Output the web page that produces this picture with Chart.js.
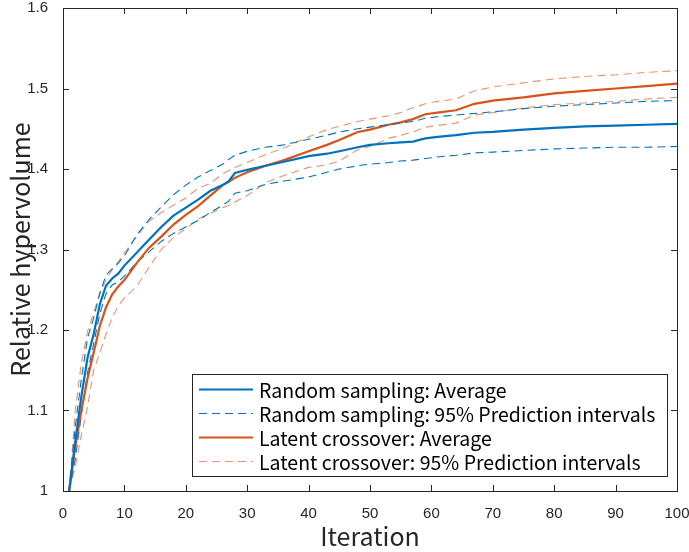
<!DOCTYPE html>
<html>
<head>
<meta charset="utf-8">
<script src="https://cdn.jsdelivr.net/npm/chart.js@4.4.1/dist/chart.umd.min.js"></script>
<style>
  html, body { margin: 0; padding: 0; background: #fff; }
  #wrap { width: 689px; height: 552px; }
</style>
</head>
<body>
<div id="wrap"><canvas id="grafico"></canvas></div>
<script>
// Iteraciones en las que se leyeron los valores
const iteraciones = [1, 2, 3, 4, 5, 6, 7, 8, 9, 10, 12, 14, 16, 18, 20, 22, 24, 26, 27, 28, 30, 33, 36, 40, 43, 45, 48, 50, 53, 55, 57, 59, 61, 64, 67, 70, 75, 80, 85, 90, 95, 100];

// Random sampling
const randomPromedio = [1.000, 1.062, 1.118, 1.166, 1.195, 1.232, 1.255, 1.264, 1.270, 1.280, 1.296, 1.312, 1.328, 1.342, 1.352, 1.362, 1.373, 1.380, 1.385, 1.395, 1.399, 1.404, 1.409, 1.416, 1.419, 1.422, 1.427, 1.430, 1.432, 1.433, 1.434, 1.438, 1.440, 1.442, 1.445, 1.446, 1.449, 1.451, 1.453, 1.454, 1.455, 1.456];
const randomSuperior = [1.000, 1.080, 1.140, 1.190, 1.215, 1.246, 1.268, 1.276, 1.283, 1.292, 1.318, 1.337, 1.353, 1.368, 1.380, 1.390, 1.398, 1.406, 1.412, 1.417, 1.422, 1.427, 1.430, 1.437, 1.442, 1.446, 1.450, 1.452, 1.455, 1.457, 1.459, 1.463, 1.465, 1.467, 1.469, 1.471, 1.475, 1.478, 1.480, 1.482, 1.484, 1.485];
const randomInferior = [1.000, 1.040, 1.095, 1.147, 1.183, 1.220, 1.245, 1.256, 1.260, 1.267, 1.284, 1.297, 1.310, 1.320, 1.328, 1.336, 1.346, 1.355, 1.360, 1.370, 1.373, 1.381, 1.385, 1.390, 1.396, 1.400, 1.404, 1.406, 1.408, 1.410, 1.411, 1.413, 1.415, 1.417, 1.420, 1.421, 1.423, 1.425, 1.426, 1.427, 1.427, 1.428];

// Latent crossover
const latentPromedio = [1.000, 1.055, 1.100, 1.140, 1.172, 1.205, 1.228, 1.244, 1.254, 1.262, 1.283, 1.302, 1.316, 1.331, 1.343, 1.354, 1.367, 1.380, 1.384, 1.389, 1.396, 1.404, 1.411, 1.422, 1.430, 1.436, 1.446, 1.449, 1.455, 1.458, 1.462, 1.468, 1.470, 1.473, 1.481, 1.485, 1.489, 1.494, 1.497, 1.500, 1.503, 1.506];
const latentSuperior = [1.000, 1.100, 1.160, 1.198, 1.222, 1.245, 1.262, 1.275, 1.285, 1.296, 1.316, 1.335, 1.346, 1.355, 1.364, 1.376, 1.382, 1.394, 1.398, 1.402, 1.408, 1.418, 1.426, 1.440, 1.449, 1.453, 1.459, 1.462, 1.466, 1.470, 1.476, 1.481, 1.484, 1.487, 1.497, 1.502, 1.507, 1.512, 1.515, 1.517, 1.520, 1.522];
const latentInferior = [1.000, 1.030, 1.070, 1.105, 1.150, 1.172, 1.195, 1.215, 1.230, 1.240, 1.254, 1.278, 1.300, 1.315, 1.326, 1.338, 1.345, 1.352, 1.355, 1.359, 1.367, 1.383, 1.392, 1.402, 1.405, 1.410, 1.424, 1.428, 1.438, 1.442, 1.446, 1.452, 1.454, 1.457, 1.467, 1.470, 1.476, 1.480, 1.482, 1.484, 1.487, 1.489];

// Ticks de los ejes
const ticksX = [0, 10, 20, 30, 40, 50, 60, 70, 80, 90, 100];
const ticksY = [1, 1.1, 1.2, 1.3, 1.4, 1.5, 1.6];

const azul = '#0072BD';
const naranja = '#D95319';
const naranjaClaro = 'rgba(217, 83, 25, 0.62)';
const colorEje = '#262626';
const fuenteTexto = "'Noto Sans CJK JP', 'Noto Sans', sans-serif";
const fuenteTicks = "'Liberation Sans Narrow', 'Liberation Sans', 'DejaVu Sans Condensed', sans-serif";

function puntos(valores) {
    return iteraciones.map((it, i) => ({ x: it, y: valores[i] }));
}

// Caja del eje y marcas hacia adentro (estilo MATLAB)
const cajaEjes = {
    id: 'cajaEjes',
    afterDatasetsDraw(chart) {
        const { ctx, chartArea: a, scales } = chart;
        const largo = 6;
        ctx.save();
        ctx.strokeStyle = colorEje;
        ctx.lineWidth = 1;
        ctx.beginPath();
        ticksX.forEach(v => {
            const px = Math.round(scales.x.getPixelForValue(v)) + 0.5;
            ctx.moveTo(px, a.bottom); ctx.lineTo(px, a.bottom - largo);
            ctx.moveTo(px, a.top); ctx.lineTo(px, a.top + largo);
        });
        ticksY.forEach(v => {
            const py = Math.round(scales.y.getPixelForValue(v)) + 0.5;
            ctx.moveTo(a.left, py); ctx.lineTo(a.left + largo, py);
            ctx.moveTo(a.right, py); ctx.lineTo(a.right - largo, py);
        });
        ctx.stroke();
        ctx.strokeRect(Math.round(a.left) + 0.5, Math.round(a.top) + 0.5,
            Math.round(a.right - a.left), Math.round(a.bottom - a.top));
        ctx.restore();
    }
};

// Leyenda dentro del area del grafico
const leyendaInterna = {
    id: 'leyendaInterna',
    afterDraw(chart) {
        const { ctx } = chart;
        const caja = { x: 192.5, y: 374.5, w: 475, h: 102 };
        ctx.save();
        ctx.fillStyle = '#fff';
        ctx.fillRect(caja.x, caja.y, caja.w, caja.h);
        ctx.strokeStyle = colorEje;
        ctx.lineWidth = 1;
        ctx.strokeRect(caja.x, caja.y, caja.w, caja.h);
        ctx.font = '19.5px ' + fuenteTexto;
        ctx.textBaseline = 'middle';
        chart.data.datasets.filter(ds => ds.enLeyenda !== false).forEach((ds, i) => {
            const y = 389.5 + i * 24;
            ctx.beginPath();
            ctx.strokeStyle = ds.borderColor;
            ctx.lineWidth = ds.borderWidth;
            ctx.setLineDash(ds.borderDash || []);
            ctx.moveTo(199, y);
            ctx.lineTo(253, y);
            ctx.stroke();
            ctx.setLineDash([]);
            ctx.fillStyle = '#000';
            ctx.fillText(ds.label, 259, y + 1);
        });
        ctx.restore();
    }
};

const ctx = document.getElementById('grafico').getContext('2d');
new Chart(ctx, {
    type: 'line',
    data: {
        datasets: [{
            label: 'Random sampling: Average',
            data: puntos(randomPromedio),
            borderColor: azul,
            borderWidth: 2.2
        }, {
            label: 'Random sampling: 95% Prediction intervals',
            data: puntos(randomSuperior),
            borderColor: azul,
            borderWidth: 1.1,
            borderDash: [8, 5]
        }, {
            label: 'Latent crossover: Average',
            data: puntos(latentPromedio),
            borderColor: naranja,
            borderWidth: 2.2
        }, {
            label: 'Latent crossover: 95% Prediction intervals',
            data: puntos(latentSuperior),
            borderColor: naranjaClaro,
            borderWidth: 1.1,
            borderDash: [8, 5]
        }, {
            label: '',
            data: puntos(randomInferior),
            borderColor: azul,
            borderWidth: 1.1,
            borderDash: [8, 5],
            enLeyenda: false
        }, {
            label: '',
            data: puntos(latentInferior),
            borderColor: naranjaClaro,
            borderWidth: 1.1,
            borderDash: [8, 5],
            enLeyenda: false
        }]
    },
    options: {
        responsive: true,
        maintainAspectRatio: false,
        animation: false,
        layout: { padding: { left: 0, right: 12, top: 8, bottom: 0 } },
        elements: {
            point: { radius: 0 },
            line: { tension: 0, fill: false }
        },
        plugins: {
            legend: { display: false },
            tooltip: { enabled: false }
        },
        scales: {
            x: {
                type: 'linear',
                min: 0,
                max: 100,
                afterFit: function(scale) {
                    scale.height = 61;
                    scale.paddingLeft = 0;
                    scale.paddingRight = 0;
                },
                afterBuildTicks: function(scale) { scale.ticks = ticksX.map(v => ({ value: v })); },
                grid: { display: false },
                border: { display: false },
                ticks: {
                    padding: 6,
                    color: colorEje,
                    font: { family: fuenteTicks, size: 15 },
                    maxRotation: 0
                },
                title: {
                    display: true,
                    text: 'Iteration',
                    color: colorEje,
                    font: { family: fuenteTexto, size: 25 },
                    padding: { top: 0, bottom: 1 }
                }
            },
            y: {
                min: 1,
                max: 1.6,
                afterFit: function(scale) {
                    scale.width = 63;
                    scale.paddingTop = 0;
                    scale.paddingBottom = 0;
                },
                afterBuildTicks: function(scale) { scale.ticks = ticksY.map(v => ({ value: v })); },
                grid: { display: false },
                border: { display: false },
                ticks: {
                    padding: 7,
                    color: colorEje,
                    font: { family: fuenteTicks, size: 15 },
                    callback: function(value) { return String(Number(value.toFixed(1))); }
                },
                title: {
                    display: true,
                    text: 'Relative hypervolume',
                    color: colorEje,
                    font: { family: fuenteTexto, size: 25 },
                    padding: { top: 5, bottom: 0 }
                }
            }
        }
    },
    plugins: [cajaEjes, leyendaInterna]
});
</script>
</body>
</html>
